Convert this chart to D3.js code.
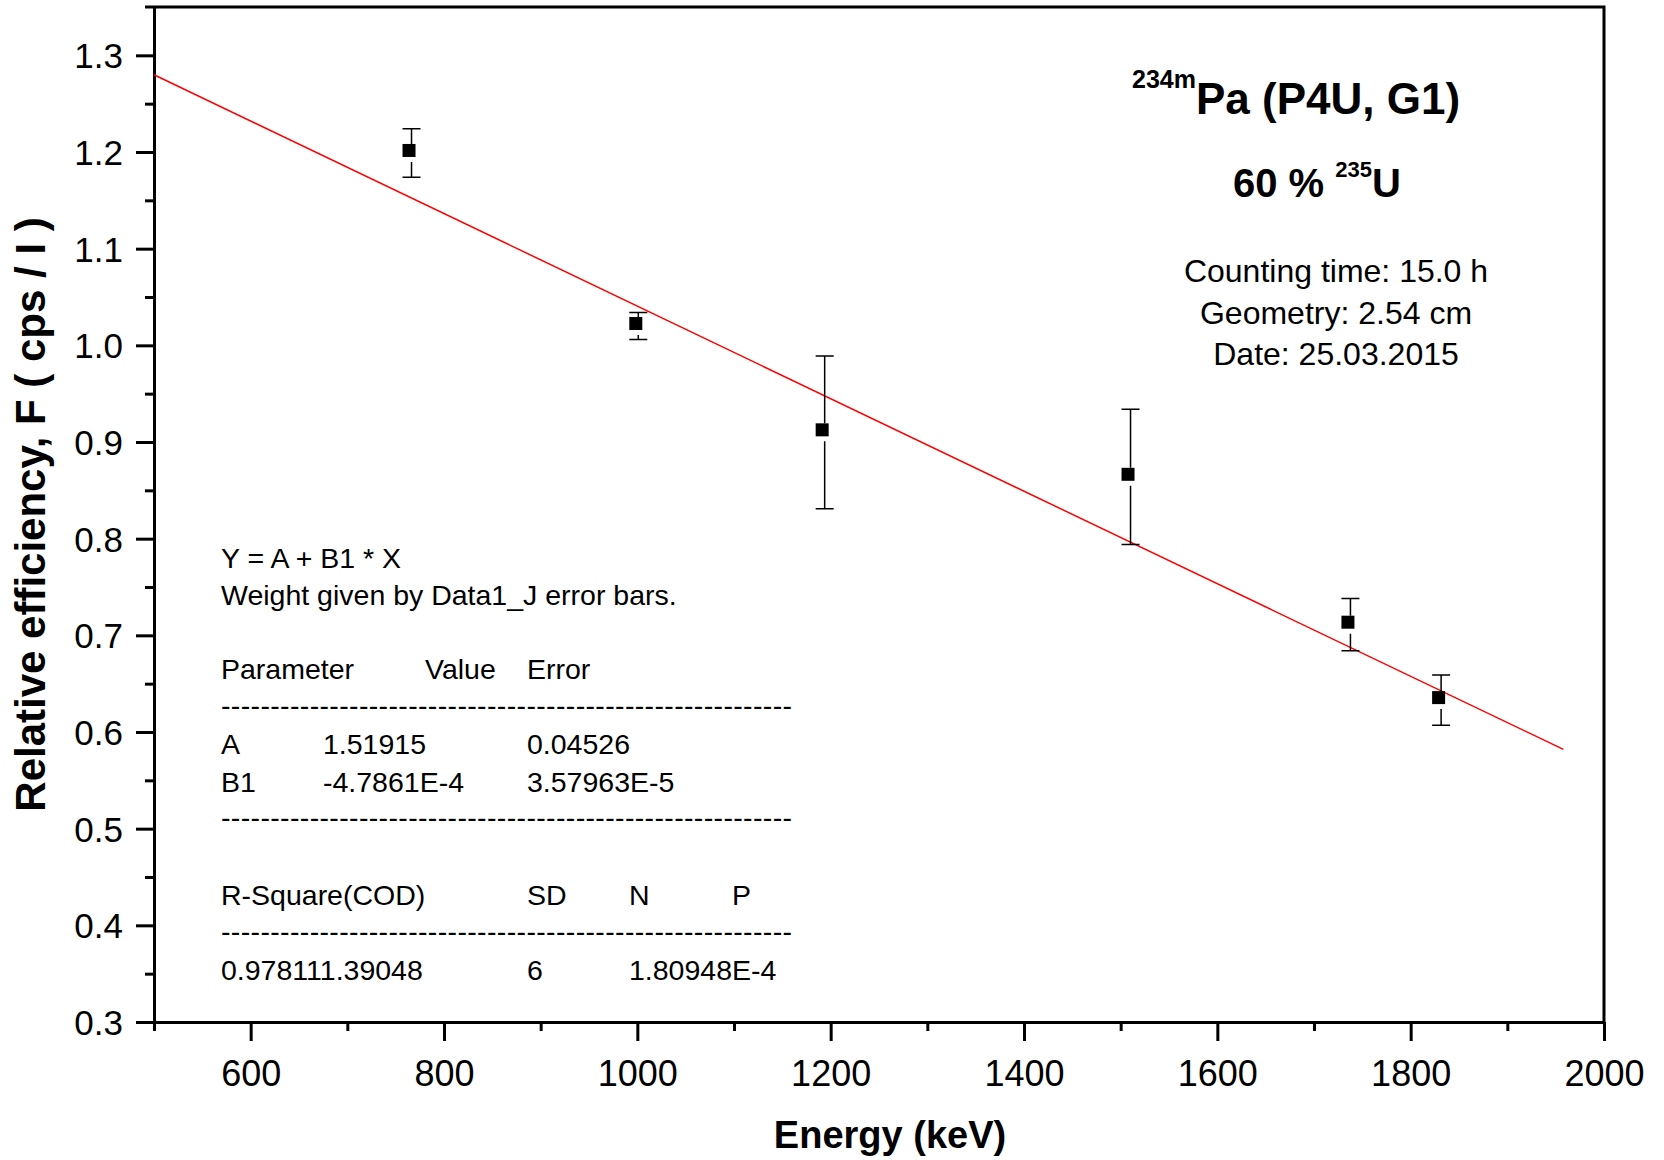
<!DOCTYPE html>
<html>
<head>
  <meta charset="utf-8">
  <title>234mPa relative efficiency</title>
  <style>
    body { margin: 0; background: #fff; }
    svg text { font-family: "Liberation Sans", Arial, sans-serif; fill: #000; }
    .axis path, .axis line { stroke: #000; stroke-width: 3; }
    .axis text { font-family: "Liberation Sans", Arial, sans-serif; }
  </style>
  <script src="https://d3js.org/d3.v7.min.js"></script>
</head>
<body>
  <script>
    // measured points (keV, relative efficiency, +/- error)
    var energy = [766.4, 1001.0, 1193.8, 1510.2, 1737.7, 1831.5];
    var efficiency = [1.199, 1.020, 0.910, 0.864, 0.711, 0.633];
    var effError = [0.025, 0.014, 0.079, 0.070, 0.027, 0.026];

    // drawn fit line ends
    var fitX = [500, 1958];
    var fitY = [1.2799, 0.5820];

    var xMajor = [600, 800, 1000, 1200, 1400, 1600, 1800, 2000];
    var xMinor = [500, 700, 900, 1100, 1300, 1500, 1700, 1900];
    var yMajor = [0.3, 0.4, 0.5, 0.6, 0.7, 0.8, 0.9, 1.0, 1.1, 1.2, 1.3];
    var yMinor = [0.35, 0.45, 0.55, 0.65, 0.75, 0.85, 0.95, 1.05, 1.15, 1.25];

    var fitEquation = ["Y = A + B1 * X", "Weight given by Data1_J error bars."];
    var paramHeader = ["Parameter", "Value", "Error"];
    var paramRows = [["A", "1.51915", "0.04526"], ["B1", "-4.7861E-4", "3.57963E-5"]];
    var statHeader = ["R-Square(COD)", "SD", "N", "P"];
    var statValues = ["0.978111.39048", "6", "1.80948E-4"];

    var infoLines = ["Counting time: 15.0 h", "Geometry: 2.54 cm", "Date: 25.03.2015"];

    (function () {
    var width = 1664, height = 1160;
    var pLeft = 154, pRight = 1604, pTop = 7, pBottom = 1022;

    var svg = d3.select('body').append('svg')
      .attr('width', width)
      .attr('height', height);

    var x = d3.scaleLinear().domain([500, 2000]).range([pLeft, pRight]);
    var y = d3.scaleLinear().domain([0.3, 1.35]).range([pBottom, pTop]);

    // frame (top and right)
    svg.append('path')
      .attr('d', 'M' + (pLeft - 9) + ',' + pTop + 'H' + pRight + 'V' + pBottom)
      .attr('fill', 'none')
      .attr('stroke', '#000')
      .attr('stroke-width', 3);

    // x axis
    svg.append('g')
      .attr('class', 'axis')
      .attr('transform', 'translate(0,' + pBottom + ')')
      .call(d3.axisBottom(x).tickValues(xMinor).tickSize(9).tickSizeOuter(0).tickFormat(''));
    var xAxis = svg.append('g')
      .attr('class', 'axis')
      .attr('transform', 'translate(0,' + pBottom + ')')
      .call(d3.axisBottom(x).tickValues(xMajor).tickSize(19).tickSizeOuter(0).tickFormat(d3.format('d')));
    xAxis.selectAll('text')
      .style('font-size', '36px')
      .attr('dy', null)
      .attr('y', 64);

    // y axis
    svg.append('g')
      .attr('class', 'axis')
      .attr('transform', 'translate(' + pLeft + ',0)')
      .call(d3.axisLeft(y).tickValues(yMinor).tickSize(9).tickSizeOuter(0).tickFormat(''));
    var yAxis = svg.append('g')
      .attr('class', 'axis')
      .attr('transform', 'translate(' + pLeft + ',0)')
      .call(d3.axisLeft(y).tickValues(yMajor).tickSize(18).tickSizeOuter(0).tickFormat(d3.format('.1f')));
    yAxis.selectAll('text')
      .style('font-size', '35px')
      .attr('x', -31)
      .attr('dy', '0.36em');

    // axis titles
    svg.append('text')
      .attr('x', 890)
      .attr('y', 1148)
      .attr('text-anchor', 'middle')
      .style('font-size', '38px')
      .style('font-weight', 'bold')
      .text('Energy (keV)');

    svg.append('text')
      .attr('transform', 'translate(45,' + (pTop + pBottom) / 2 + ') rotate(-90)')
      .attr('text-anchor', 'middle')
      .style('font-size', '42px')
      .style('font-weight', 'bold')
      .text('Relative efficiency, F ( cps / I )');

    // fit line
    svg.append('line')
      .attr('x1', x(fitX[0])).attr('y1', y(fitY[0]))
      .attr('x2', x(fitX[1])).attr('y2', y(fitY[1]))
      .attr('stroke', '#ff0000')
      .attr('stroke-width', 1.5);

    var points = energy.map(function (e, i) {
      return {e: e, v: efficiency[i], err: effError[i]};
    });

    // error bars, with a gap around the symbol
    var gap = 9, cap = 9;
    var bars = svg.append('g')
      .attr('stroke', '#000')
      .attr('stroke-width', 1.5)
      .selectAll('g')
      .data(points)
      .enter().append('g');

    bars.append('path')
      .attr('fill', 'none')
      .attr('d', function (d) {
        var cx = x(d.e), yt = y(d.v + d.err), yb = y(d.v - d.err), yc = y(d.v);
        return 'M' + (cx - cap) + ',' + yt + 'H' + (cx + cap) +
               'M' + cx + ',' + yt + 'V' + Math.min(yc - gap, yb) +
               'M' + cx + ',' + Math.max(yc + gap, yt) + 'V' + yb +
               'M' + (cx - cap) + ',' + yb + 'H' + (cx + cap);
      });

    svg.append('g')
      .selectAll('rect')
      .data(points)
      .enter().append('rect')
        .attr('x', function (d) { return x(d.e) - 9; })
        .attr('y', function (d) { return y(d.v) - 9; })
        .attr('width', 13)
        .attr('height', 13)
        .attr('fill', '#000');

    // title block
    var title = svg.append('text')
      .attr('x', 1132)
      .attr('y', 114)
      .style('font-weight', 'bold');
    title.append('tspan').style('font-size', '25px').attr('dy', -26).text('234m');
    title.append('tspan').style('font-size', '44px').attr('dy', 26).text('Pa (P4U, G1)');

    var sub = svg.append('text')
      .attr('x', 1233)
      .attr('y', 197)
      .style('font-weight', 'bold');
    sub.append('tspan').style('font-size', '40px').text('60 % ');
    sub.append('tspan').style('font-size', '22px').attr('dy', -20).text('235');
    sub.append('tspan').style('font-size', '40px').attr('dy', 20).text('U');

    svg.append('g')
      .selectAll('text')
      .data(infoLines)
      .enter().append('text')
        .attr('x', 1336)
        .attr('y', function (d, i) { return [282, 324, 365][i]; })
        .attr('text-anchor', 'middle')
        .style('font-size', '32px')
        .text(function (d) { return d; });

    // fit report
    var report = svg.append('g').style('font-size', '28.5px');
    var col0 = 221;

    report.selectAll('.eq')
      .data(fitEquation)
      .enter().append('text')
        .attr('x', col0)
        .attr('y', function (d, i) { return [568, 605][i]; })
        .text(function (d) { return d; });

    function row(cells, xs, yy) {
      report.append('g').selectAll('text')
        .data(cells)
        .enter().append('text')
          .attr('x', function (d, i) { return xs[i]; })
          .attr('y', yy)
          .text(function (d) { return d; });
    }

    row(paramHeader, [col0, 425, 527], 679);
    row(paramRows[0], [col0, 323, 527], 754);
    row(paramRows[1], [col0, 323, 527], 792);
    row(statHeader, [col0, 527, 629, 732], 905);
    row(statValues, [col0, 527, 629], 980);

    var dashes = d3.range(58).map(function () { return '-'; }).join('');
    [715, 827, 941].forEach(function (yy) {
      report.append('text')
        .attr('x', col0)
        .attr('y', yy)
        .attr('textLength', 571)
        .attr('lengthAdjust', 'spacing')
        .text(dashes);
    });
    })();
  </script>
</body>
</html>
